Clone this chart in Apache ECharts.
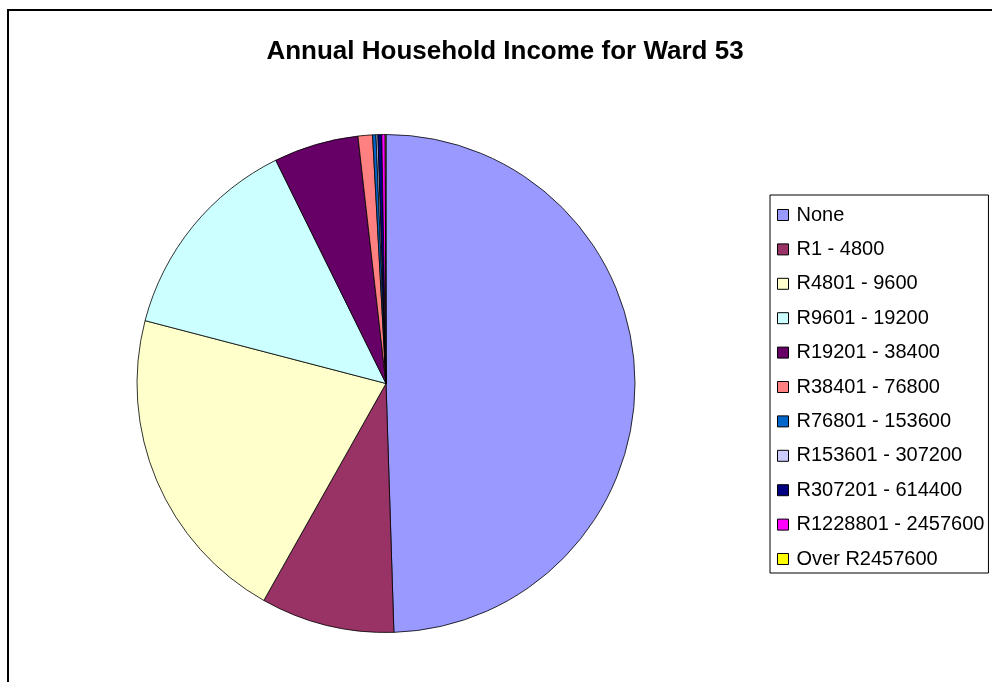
<!DOCTYPE html>
<html>
<head>
<meta charset="utf-8">
<script src="https://cdn.jsdelivr.net/npm/echarts@6/dist/echarts.min.js"></script>
<style>
html,body{margin:0;padding:0;background:#fff;}
#chart{width:992px;height:682px;}
</style>
</head>
<body>
<div id="chart"></div>
<script>
const categories = ["None","R1 - 4800","R4801 - 9600","R9601 - 19200","R19201 - 38400","R38401 - 76800","R76801 - 153600","R153601 - 307200","R307201 - 614400","R1228801 - 2457600","Over R2457600"];
const values = [4950, 867, 2090, 1364, 550, 94, 22, 12, 25, 22, 5];
const colors = ["#9999FF","#993366","#FFFFCC","#CCFFFF","#660066","#FF8080","#0066CC","#CCCCFF","#000080","#FF00FF","#FFFF00"];
const titleText = "Annual Household Income for Ward 53";

const chart = echarts.init(document.getElementById('chart'), null, {renderer:'canvas'});
const font = "'Liberation Sans', Arial, sans-serif";
chart.setOption({
  animation: false,
  backgroundColor: '#fff',
  color: colors,
  graphic: [{
    type: 'rect', silent: true, z: -1,
    shape: {x: 8, y: 10, width: 1000, height: 700},
    style: {fill: 'none', stroke: '#000', lineWidth: 2}
  }],
  title: {
    text: titleText,
    left: 500, top: 34, textAlign: 'center',
    textStyle: {fontFamily: font, fontWeight: 'bold', fontSize: 26, color: '#000'}
  },
  legend: {
    orient: 'vertical',
    left: 770, top: 195,
    padding: [10, 4, 4, 7],
    borderColor: '#000', borderWidth: 1,
    itemWidth: 11, itemHeight: 11, itemGap: 14.4,
    icon: 'rect',
    itemStyle: {borderColor: '#000', borderWidth: 1},
    textStyle: {fontFamily: font, fontSize: 20, color: '#000', lineHeight: 20, padding: [0,0,0,3]},
    data: categories
  },
  series: [{
    type: 'pie',
    center: [386, 383.5],
    radius: [0, 249],
    startAngle: 90,
    clockwise: true,
    avoidLabelOverlap: false,
    label: {show: false},
    labelLine: {show: false},
    itemStyle: {borderColor: '#000', borderWidth: 0.8},
    emphasis: {disabled: true},
    data: categories.map((c, i) => ({name: c, value: values[i]}))
  }]
});
</script>
</body>
</html>
